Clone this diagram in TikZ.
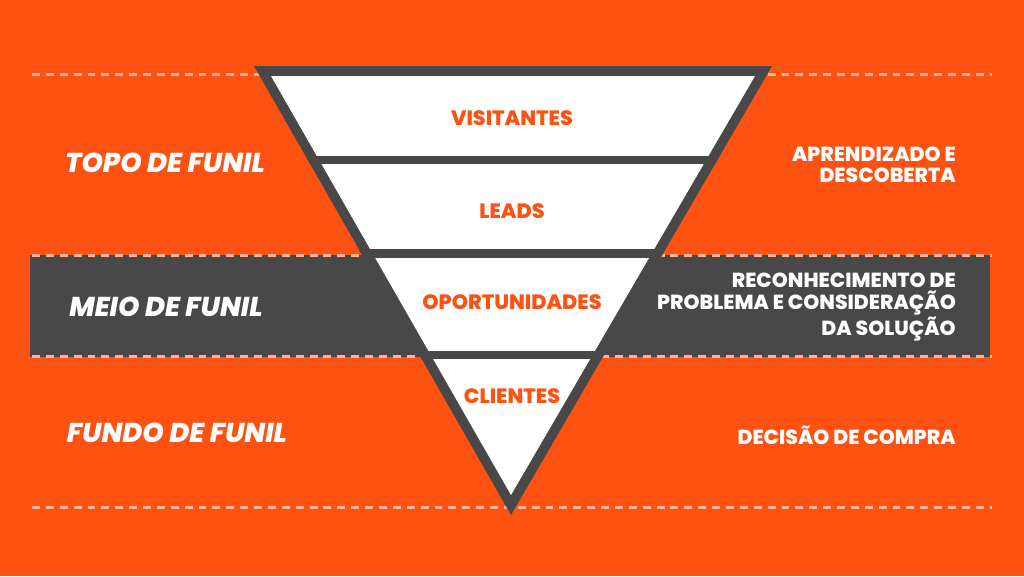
\documentclass[tikz,border=0pt]{standalone}
\usepackage{fontspec}
\setmainfont{Poppins}
\newfontfamily\pesada{Poppins-ExtraBold.ttf}[ItalicFont=Poppins-ExtraBoldItalic.ttf]
\definecolor{funilorange}{HTML}{FD5212}
\definecolor{funilgray}{HTML}{484848}
\definecolor{funildash}{HTML}{F7B497}
\tikzset{
  etapa/.style={font=\pesada\fontsize{11.8}{13}\selectfont, text=funilorange},
  fase/.style={font=\pesada\fontsize{15.5}{17}\selectfont\itshape, text=white},
  desc/.style={font=\pesada\fontsize{11.6}{12.2}\selectfont, text=white, align=right, anchor=east},
  linha/.style={funildash, line width=1.7pt, dash pattern=on 4.5pt off 3.4pt}
}
\begin{document}
\begin{tikzpicture}[x=0.02cm, y=-0.02cm, line join=miter]
  \useasboundingbox (0,0) rectangle (1024,576);
  \fill[funilorange] (0,0) rectangle (1024,576);
  % faixa do meio
  \fill[funilgray] (30,255) rectangle (990,357);
  \foreach \y in {74,255,356,507}{
    \draw[linha] (32,\y) -- (992,\y);
  }
  % funil
  \coordinate (tl) at (254,66);
  \coordinate (tr) at (772,66);
  \coordinate (ap) at (511,515);
  \fill[funilgray] (tl) -- (tr) -- (ap) -- cycle;
  \fill[white] (271,76) -- (755,76) -- (511,495) -- cycle;
  \begin{scope}
    \clip (tl) -- (tr) -- (ap) -- cycle;
    \foreach \y in {160,253.5,355}{
      \draw[funilgray, line width=5pt] (240,\y) -- (790,\y);
    }
  \end{scope}
  \node[etapa] (visitantes) at (512,118) {VISITANTES};
  \node[etapa] (leads) at (512,211) {LEADS};
  \node[etapa] (oportunidades) at (512,302) {OPORTUNIDADES};
  \node[etapa] (clientes) at (512,396) {CLIENTES};
  \node[fase] (topo) at (165,163) {TOPO DE FUNIL};
  \node[fase] (meio) at (166,307) {MEIO DE FUNIL};
  \node[fase] (fundo) at (177,433) {FUNDO DE FUNIL};
  \node[desc] (aprendizado) at (962,165) {APRENDIZADO E\\DESCOBERTA};
  \node[desc] (reconhecimento) at (962,307) {RECONHECIMENTO DE\\PROBLEMA E CONSIDERAÇÃO\\DA SOLUÇÃO};
  \node[desc] (decisao) at (962,435) {DECISÃO DE COMPRA};
\end{tikzpicture}
\end{document}
